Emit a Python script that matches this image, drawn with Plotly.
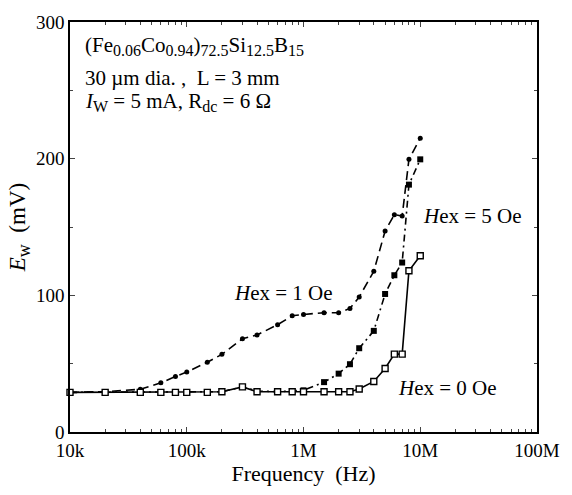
import plotly.graph_objects as go

freq = [1e4, 2e4, 4e4, 6e4, 8e4, 1e5, 1.5e5, 2e5, 3e5, 4e5, 6e5, 8e5, 1e6,
        1.5e6, 2e6, 2.5e6, 3e6, 4e6, 5e6, 6e6, 7e6, 8e6, 1e7]

ew_hex0 = [29, 29, 29, 29, 29, 29, 29, 29.5, 33, 29.5, 29.5, 29.5, 29.5,
           29.5, 29.5, 29.5, 31.5, 37, 46.5, 57, 57, 118, 129]
ew_hex5 = [29, 29, 29, 29, 29, 29, 29, 29.5, 33, 30, 29.5, 30, 30.5,
           36.5, 42.7, 49.6, 61.3, 74, 101, 114.7, 124, 181, 199.5]
ew_hex1 = [29, 29.5, 31.3, 36, 40.6, 43.9, 51, 56.8, 68.2, 71, 78.5, 85, 86,
           87.3, 87.3, 90.4, 98.8, 117.6, 147, 159, 158, 199.5, 215]

x_tickvals = [1e4, 1e5, 1e6, 1e7, 1e8]
x_ticktext = ["10k", "100k", "1M", "10M", "100M"]
y_tickvals = [0, 100, 200, 300]

FONT = "Liberation Serif, Times New Roman, serif"


def sub(t, px=16):
    return '<sub><span style="font-size:%dpx">%s</span></sub>' % (px, t)


fig = go.Figure()
fig.add_trace(go.Scatter(x=freq, y=ew_hex1, mode="lines+markers",
                         line=dict(color="black", width=1.6, dash="9px,5px"),
                         marker=dict(symbol="circle", size=5, color="black"),
                         cliponaxis=False, showlegend=False))
fig.add_trace(go.Scatter(x=freq, y=ew_hex5, mode="lines+markers",
                         line=dict(color="black", width=1.6, dash="7px,4px,2px,4px"),
                         marker=dict(symbol="square", size=6, color="black"),
                         cliponaxis=False, showlegend=False))
fig.add_trace(go.Scatter(x=freq, y=ew_hex0, mode="lines+markers",
                         line=dict(color="black", width=1.6),
                         marker=dict(symbol="square", size=6, color="white",
                                     line=dict(color="black", width=1.4)),
                         cliponaxis=False, showlegend=False))

line1 = "(Fe" + sub("0.06") + "Co" + sub("0.94") + ")" + sub("72.5") + "Si" + sub("12.5") + "B" + sub("15")
line3 = "<i>I</i>" + sub("W") + " = 5 mA, R" + sub("dc") + " = 6 Ω"

anns = [
    dict(x=83, y=38, text=line1),
    dict(x=83, y=70, text="30 µm dia. ,  L = 3 mm"),
    dict(x=83, y=95, text=line3),
]
for a in anns:
    fig.add_annotation(x=(a["x"] - 70) / 472, y=1 - (a["y"] - 13) / 419,
                       xref="paper", yref="paper", xanchor="left", yanchor="middle",
                       text=a["text"], showarrow=False, font=dict(size=21))

labels = [
    dict(x=5.83, y=101.5, xanchor="center", text="<i>H</i>ex = 1 Oe"),
    dict(x=7.01, y=158, xanchor="left", text="<i>H</i>ex = 5 Oe"),
    dict(x=6.79, y=32.5, xanchor="left", text="<i>H</i>ex = 0 Oe"),
]
for a in labels:
    fig.add_annotation(x=a["x"], y=a["y"], xref="x", yref="y", xanchor=a["xanchor"],
                       yanchor="middle", text=a["text"], showarrow=False,
                       font=dict(size=21))

fig.update_layout(
    width=572, height=495,
    margin=dict(l=70, r=30, t=13, b=63),
    paper_bgcolor="white", plot_bgcolor="white",
    font=dict(family=FONT, color="black", size=19),
)
fig.update_xaxes(type="log", range=[4, 8], tickvals=x_tickvals, ticktext=x_ticktext,
                 ticks="inside", ticklen=5, tickwidth=1.2, showline=True, linecolor="black",
                 linewidth=1.6, mirror="ticks", showgrid=False, zeroline=False,
                 minor=dict(ticks="inside", ticklen=3, dtick="D1", showgrid=False),
                 title=dict(text="Frequency  (Hz)", font=dict(size=22), standoff=2),
                 tickfont=dict(size=19))
fig.update_yaxes(range=[0, 300], tickvals=y_tickvals, ticks="inside", ticklen=5,
                 tickwidth=1.2, showline=True, linecolor="black", linewidth=1.6,
                 mirror="ticks", showgrid=False, zeroline=False,
                 minor=dict(ticks="inside", ticklen=3, dtick=50, showgrid=False),
                 title=dict(text="<i>E</i>" + sub("w", 18) + "  (mV)", font=dict(size=23), standoff=4),
                 tickfont=dict(size=19))

fig.write_html("out.html")
